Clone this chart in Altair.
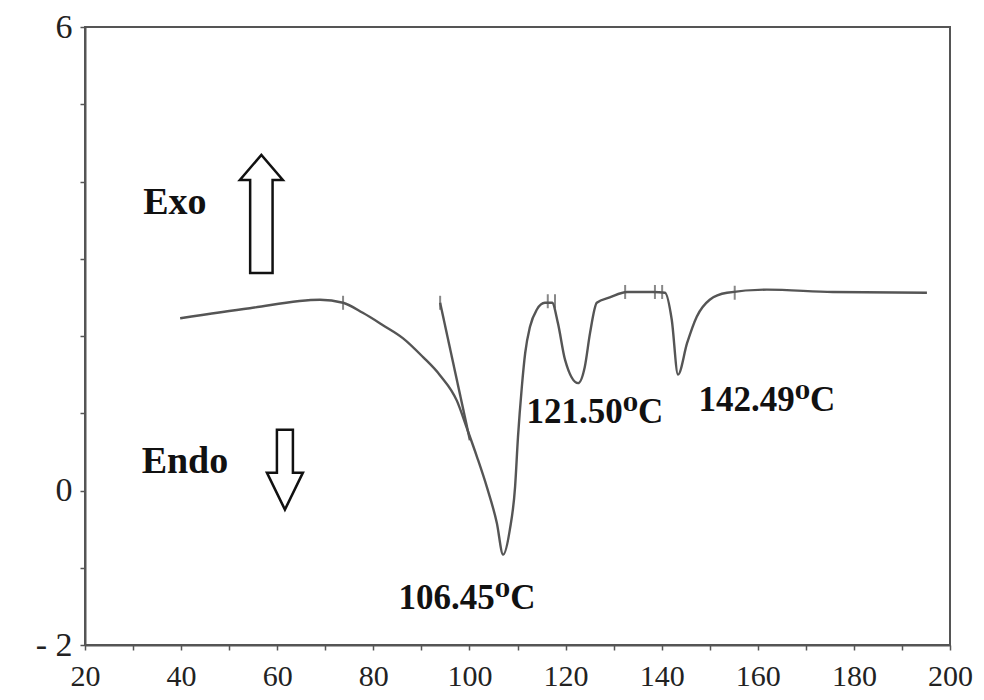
import altair as alt
import pandas as pd

# DSC curve (temperature in C, heat flow)
temps = [39.8, 54.3, 68.9, 73.7, 77.8, 82.0, 86.2, 90.3, 93.9, 97.4, 99.5, 101.6, 103.6,
         105.7, 107.0, 108.4, 109.5, 110.1, 110.9, 111.6, 112.6, 114.0, 115.7, 117.2, 118.4,
         119.9, 122.6, 124.0, 125.1, 126.5, 129.2, 132.8, 138.2, 140.7, 142.1, 143.4, 145.3,
         147.3, 150.0, 153.6, 161.9, 175.6, 195.2]
flow = [2.23, 2.36, 2.47, 2.43, 2.30, 2.14, 1.97, 1.73, 1.49, 1.16, 0.80, 0.43, 0.05,
        -0.42, -0.83, -0.51, 0.05, 0.69, 1.34, 1.78, 2.12, 2.34, 2.43, 2.43, 2.17,
        1.69, 1.39, 1.60, 2.04, 2.43, 2.50, 2.57, 2.57, 2.56, 2.21, 1.50, 1.91,
        2.25, 2.47, 2.56, 2.60, 2.57, 2.56]

# onset tangent construction line
tan_t = [93.9, 100.1]
tan_v = [2.43, 0.65]

# instrument marks on the curve
mark_t = [73.7, 93.9, 116.3, 117.8, 132.4, 138.6, 140.1, 155.2]
mark_v = [2.43, 2.43, 2.45, 2.45, 2.57, 2.57, 2.57, 2.56]

# peak labels
peak_text = ["121.50\u2070C", "142.49\u2070C", "106.45\u2070C"]
peak_t = [126.1, 161.9, 99.5]
peak_v = [1.02, 1.17, -1.39]

# direction labels
dir_text = ["Exo", "Endo"]
dir_t = [38.7, 40.8]
dir_v = [3.72, 0.37]

# arrows
arrow_dir = ["up", "down"]
arrow_t = [56.7, 61.6]
arrow_v = [3.58, 0.27]

x_ticks = list(range(20, 201, 10))
y_ticks = list(range(-2, 7))

curve_df = pd.DataFrame({"T": temps, "v": flow})
tan_df = pd.DataFrame({"T": tan_t, "v": tan_v})
mark_df = pd.DataFrame({"T": mark_t, "v": mark_v})
peak_df = pd.DataFrame({"T": peak_t, "v": peak_v, "text": peak_text})
dir_df = pd.DataFrame({"T": dir_t, "v": dir_v, "text": dir_text})
arr_df = pd.DataFrame({"T": arrow_t, "v": arrow_v, "dir": arrow_dir})

FONT = "'Liberation Serif', 'DejaVu Serif', serif"
xs = alt.Scale(domain=[20, 200], nice=False, zero=False)
ys = alt.Scale(domain=[-2, 6], nice=False, zero=False)

x_axis = alt.Axis(values=x_ticks, title=None, grid=False,
                  labelExpr="datum.value % 20 == 0 ? datum.label : ''",
                  labelFont=FONT, labelFontSize=30, labelColor="#222",
                  tickSize=5, tickColor="#555", tickWidth=1.5,
                  domainColor="#555", domainWidth=2, labelPadding=11,
                  labelFlush=False, labelOverlap=False)
y_axis = alt.Axis(values=y_ticks, title=None, grid=False,
                  labelExpr="datum.value == 6 ? '6' : datum.value == 0 ? '0' : datum.value == -2 ? '-  2' : ''",
                  labelFont=FONT, labelFontSize=34, labelColor="#222",
                  tickSize=5, tickColor="#555", tickWidth=1.5,
                  domainColor="#555", domainWidth=2, labelPadding=8,
                  labelFlush=False, labelOverlap=False)

base_x = alt.X("T:Q", scale=xs, axis=x_axis)
base_y = alt.Y("v:Q", scale=ys, axis=y_axis)

curve = alt.Chart(curve_df).mark_line(color="#555", strokeWidth=2.4, interpolate="monotone").encode(
    x=base_x, y=base_y)

tangent = alt.Chart(tan_df).mark_line(color="#555", strokeWidth=2.4).encode(
    x=alt.X("T:Q", scale=xs), y=alt.Y("v:Q", scale=ys))

marks = alt.Chart(mark_df).mark_tick(color="#555", orient="vertical", size=14, thickness=2).encode(
    x=alt.X("T:Q", scale=xs), y=alt.Y("v:Q", scale=ys))

peak_labels = alt.Chart(peak_df).mark_text(font=FONT, fontWeight="bold", fontSize=35, color="#111",
                                           align="center", baseline="middle").encode(
    x=alt.X("T:Q", scale=xs), y=alt.Y("v:Q", scale=ys), text="text:N")

dir_labels = alt.Chart(dir_df).mark_text(font=FONT, fontWeight="bold", fontSize=38, color="#111",
                                         align="center", baseline="middle").encode(
    x=alt.X("T:Q", scale=xs), y=alt.Y("v:Q", scale=ys), text="text:N")

up_path = "M -0.19 1 L -0.19 -0.576 L -0.364 -0.576 L 0 -1 L 0.364 -0.576 L 0.19 -0.576 L 0.19 1 Z"
down_path = "M -0.2 -1 L 0.2 -1 L 0.2 0.075 L 0.45 0.075 L 0 1 L -0.45 0.075 L -0.2 0.075 Z"

up_arrow = alt.Chart(arr_df).transform_filter(alt.datum.dir == "up").mark_point(
    shape=up_path, size=118 * 118, filled=True, fill="white", stroke="#111", strokeWidth=2.5, opacity=1
).encode(x=alt.X("T:Q", scale=xs), y=alt.Y("v:Q", scale=ys))

down_arrow = alt.Chart(arr_df).transform_filter(alt.datum.dir == "down").mark_point(
    shape=down_path, size=80 * 80, filled=True, fill="white", stroke="#111", strokeWidth=2.5, opacity=1
).encode(x=alt.X("T:Q", scale=xs), y=alt.Y("v:Q", scale=ys))

chart = alt.layer(curve, tangent, marks, peak_labels, dir_labels, up_arrow, down_arrow).properties(
    width=865, height=618,
    autosize=alt.AutoSizeParams(type="none"),
    padding={"left": 85, "top": 27, "right": 34, "bottom": 55},
    background="white",
).configure_view(stroke="#555", strokeWidth=2)

chart.save("out.html", embed_options={"renderer": "svg", "actions": False})
